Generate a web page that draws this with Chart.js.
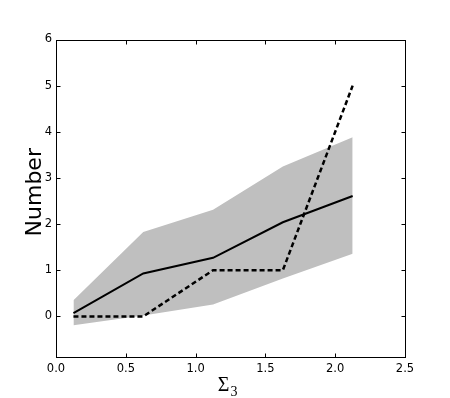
<!DOCTYPE html>
<html>
<head>
<meta charset="utf-8">
<script src="https://cdn.jsdelivr.net/npm/chart.js@4"></script>
<style>
  html, body { margin: 0; padding: 0; background: #fff; }
  canvas { display: block; }
</style>
</head>
<body>
<canvas id="myChart" width="450" height="398"></canvas>
<script>
// values
const xValues = [0.125, 0.625, 1.125, 1.625, 2.125];
const meanValues = [0.07, 0.93, 1.27, 2.04, 2.61];
const observedValues = [0, 0, 1, 1, 5];
const bandUpper = [0.35, 1.83, 2.31, 3.25, 3.88];
const bandLower = [-0.19, 0.02, 0.26, 0.82, 1.36];
const xTicks = [0, 0.5, 1.0, 1.5, 2.0, 2.5];
const yTicks = [0, 1, 2, 3, 4, 5, 6];
const yTitle = 'Number';
const xTitle = 'Σ';
const xTitleSub = '3';

const pts = vals => xValues.map((x, i) => ({ x: x, y: vals[i] }));
const tickFont = { family: 'DejaVu Sans', size: 11.5 };

// matplotlib-like frame with inward ticks on all four sides, plus axis titles
const framePlugin = {
    id: 'frame',
    afterDraw(chart) {
        const ctx = chart.ctx;
        const a = chart.chartArea;
        const xs = chart.scales.x, ys = chart.scales.y;
        const L = Math.round(a.left) + 0.5, R = Math.round(a.right) + 0.5;
        const T = Math.round(a.top) + 0.5, B = Math.round(a.bottom) + 0.5;
        ctx.save();
        ctx.strokeStyle = '#000';
        ctx.lineWidth = 1;
        ctx.strokeRect(L, T, R - L, B - T);
        ctx.beginPath();
        xs.ticks.forEach(t => {
            const px = Math.round(xs.getPixelForValue(t.value)) + 0.5;
            ctx.moveTo(px, B); ctx.lineTo(px, B - 4);
            ctx.moveTo(px, T); ctx.lineTo(px, T + 4);
        });
        ys.ticks.forEach(t => {
            const py = Math.round(ys.getPixelForValue(t.value)) + 0.5;
            ctx.moveTo(L, py); ctx.lineTo(L + 4, py);
            ctx.moveTo(R, py); ctx.lineTo(R - 4, py);
        });
        ctx.stroke();

        // y title, rotated
        ctx.fillStyle = '#000';
        ctx.save();
        ctx.translate(a.left - 15.5, (a.top + a.bottom) / 2 - 6);
        ctx.rotate(-Math.PI / 2);
        ctx.font = '22px "DejaVu Sans"';
        ctx.textAlign = 'center';
        ctx.textBaseline = 'alphabetic';
        ctx.fillText(yTitle, 0, 0);
        ctx.restore();

        // x title with subscript
        const cx = (a.left + a.right) / 2 - 2;
        ctx.textBaseline = 'alphabetic';
        ctx.font = '20px "Liberation Serif"';
        ctx.textAlign = 'right';
        ctx.fillText(xTitle, cx + 1, a.bottom + 33.5);
        ctx.font = '14px "Liberation Serif"';
        ctx.textAlign = 'left';
        ctx.fillText(xTitleSub, cx + 2, a.bottom + 38.5);
        ctx.restore();
    }
};

new Chart(document.getElementById('myChart'), {
    type: 'line',
    data: {
        datasets: [
            {
                label: 'upper',
                data: pts(bandUpper),
                borderWidth: 0,
                pointRadius: 0,
                fill: false,
                order: 2
            },
            {
                label: 'lower',
                data: pts(bandLower),
                borderWidth: 0,
                pointRadius: 0,
                backgroundColor: 'rgb(191, 191, 191)',
                fill: '-1',
                order: 2
            },
            {
                label: 'mean',
                data: pts(meanValues),
                borderColor: '#000',
                borderWidth: 2,
                pointRadius: 0,
                fill: false,
                tension: 0,
                order: 0
            },
            {
                label: 'observed',
                data: pts(observedValues),
                borderColor: '#000',
                borderWidth: 2.5,
                borderDash: [5, 3],
                pointRadius: 0,
                fill: false,
                tension: 0,
                order: 0
            }
        ]
    },
    options: {
        responsive: false,
        animation: false,
        layout: { padding: { left: 0, right: 45, top: 39.5, bottom: 0 } },
        plugins: {
            legend: { display: false },
            tooltip: { enabled: false }
        },
        scales: {
            x: {
                type: 'linear',
                min: 0,
                max: 2.5,
                afterBuildTicks: s => { s.ticks = xTicks.map(v => ({ value: v })); },
                afterFit: s => { s.height = 41; },
                grid: { display: false, drawTicks: false },
                border: { display: false },
                ticks: {
                    color: '#000',
                    font: tickFont,
                    padding: 5,
                    maxRotation: 0,
                    callback: v => Number(v).toFixed(1)
                }
            },
            y: {
                type: 'linear',
                min: -0.88,
                max: 6,
                afterBuildTicks: s => { s.ticks = yTicks.map(v => ({ value: v })); },
                afterFit: s => { s.width = 56; },
                grid: { display: false, drawTicks: false },
                border: { display: false },
                ticks: {
                    color: '#000',
                    font: tickFont,
                    padding: 4,
                    callback: v => String(v)
                }
            }
        }
    },
    plugins: [framePlugin]
});
</script>
</body>
</html>
